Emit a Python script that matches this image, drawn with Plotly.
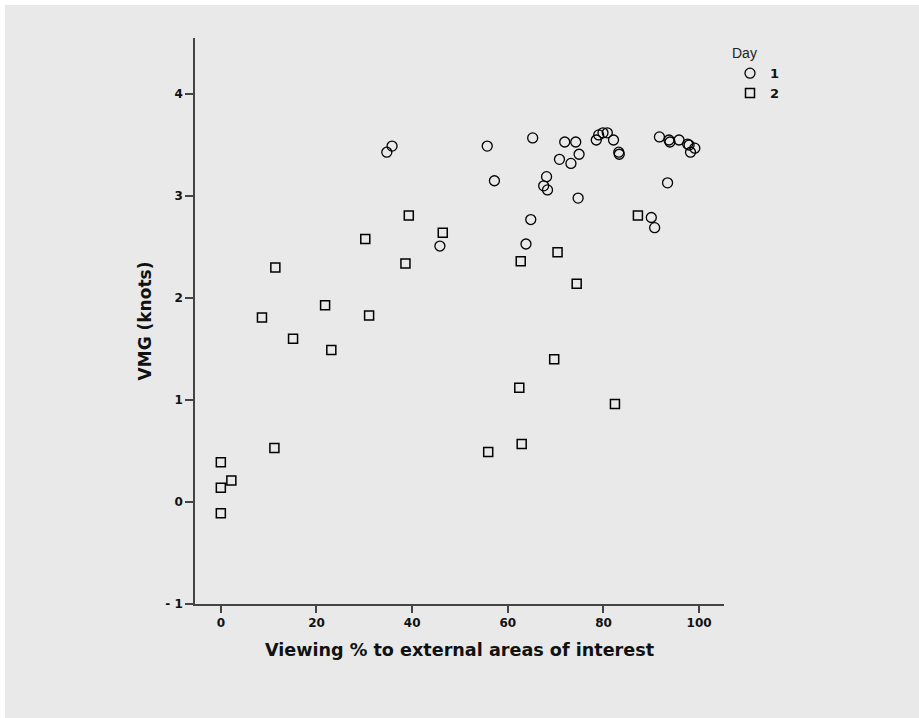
import plotly.graph_objects as go

# Day 1 (circles)
day1_x = [34.7, 35.8, 55.7, 65.2, 57.2, 71.9, 74.2, 74.9, 70.8, 73.2, 68.1, 67.5, 68.3, 74.7,
          78.5, 79.0, 79.9, 80.8, 82.1, 83.2, 83.3, 91.7, 93.7, 93.9, 95.8, 97.6, 97.9, 99.1,
          98.2, 93.4, 64.8, 63.8, 45.8, 90.0, 90.7]
day1_y = [3.43, 3.49, 3.49, 3.57, 3.15, 3.53, 3.53, 3.41, 3.36, 3.32, 3.19, 3.10, 3.06, 2.98,
          3.55, 3.60, 3.62, 3.62, 3.55, 3.43, 3.41, 3.58, 3.55, 3.53, 3.55, 3.51, 3.50, 3.47,
          3.43, 3.13, 2.77, 2.53, 2.51, 2.79, 2.69]

# Day 2 (squares)
day2_x = [0.0, 0.0, 2.2, 0.0, 11.2, 8.6, 11.4, 15.1, 21.8, 23.1, 30.2, 31.0, 38.6, 39.3,
          46.4, 55.9, 62.4, 62.9, 62.7, 69.7, 70.4, 74.4, 82.4, 87.2]
day2_y = [0.39, 0.14, 0.21, -0.11, 0.53, 1.81, 2.30, 1.60, 1.93, 1.49, 2.58, 1.83, 2.34, 2.81,
          2.64, 0.49, 1.12, 0.57, 2.36, 1.40, 2.45, 2.14, 0.96, 2.81]

x_ticks = [0, 20, 40, 60, 80, 100]
y_ticks = [-1, 0, 1, 2, 3, 4]
y_tick_labels = ["- 1", "0", "1", "2", "3", "4"]

W, H = 919, 718
ML, MR, MT, MB = 195, 195, 38, 114
PW, PH = W - ML - MR, H - MT - MB
BG = "#e8e9e8"
INK = "#111111"
AX = "#444444"

def px_x(p):
    return (p - ML) / PW

def px_y(p):
    return (H - MB - p) / PH

fig = go.Figure()
fig.add_trace(go.Scatter(
    x=day1_x, y=day1_y, mode="markers", name="1",
    marker=dict(symbol="circle-open", size=10, color="#000000", line=dict(width=1.3, color="#000000")),
))
fig.add_trace(go.Scatter(
    x=day2_x, y=day2_y, mode="markers", name="2",
    marker=dict(symbol="square-open", size=9, color="#000000", line=dict(width=1.5, color="#000000")),
))

font_family = "Liberation Sans, Arial, sans-serif"
wide_family = "DejaVu Sans, Liberation Sans, sans-serif"
bold_tick = dict(size=12, family=wide_family, color=INK, weight="bold")

fig.update_layout(
    width=W, height=H,
    margin=dict(l=ML, r=MR, t=MT, b=MB, pad=0, autoexpand=False),
    paper_bgcolor="white",
    plot_bgcolor="rgba(0,0,0,0)",
    font=dict(family=font_family, color=INK),
    showlegend=True,
    legend=dict(
        x=px_x(730), y=px_y(40), xanchor="left", yanchor="top",
        bgcolor="rgba(0,0,0,0)",
        title=dict(text="Day", font=dict(size=14, family=font_family, color="#222222", weight="normal"),
                   side="top"),
        font=dict(size=13, family=wide_family, color=INK, weight="bold"),
        itemwidth=30,
        tracegroupgap=0,
    ),
    shapes=[dict(
        type="rect", xref="paper", yref="paper",
        x0=px_x(5), x1=px_x(W + 5), y0=px_y(H + 5), y1=px_y(5),
        fillcolor=BG, line=dict(width=0), layer="below",
    )],
)

fig.update_xaxes(
    range=[-5.4, 105.2],
    tickvals=x_ticks, ticktext=[str(v) for v in x_ticks],
    ticks="outside", ticklen=7, tickwidth=1.5, tickcolor=AX,
    showline=True, linecolor=AX, linewidth=1.5,
    showgrid=False, zeroline=False,
    tickfont=bold_tick,
    title=dict(text="<b>Viewing % to external areas of interest</b>",
               font=dict(size=17.6, family=wide_family, color=INK), standoff=15),
)
fig.update_yaxes(
    range=[-1, 4.55],
    tickvals=y_ticks, ticktext=y_tick_labels,
    ticks="outside", ticklen=8, tickwidth=1.5, tickcolor=AX,
    showline=True, linecolor=AX, linewidth=1.5,
    showgrid=False, zeroline=False,
    tickfont=bold_tick,
    title=dict(text="<b>VMG (knots)</b>",
               font=dict(size=17, family=wide_family, color=INK), standoff=9),
)

fig.write_html("out.html", config={"displayModeBar": False},
               post_script="document.body.style.margin='0';")
